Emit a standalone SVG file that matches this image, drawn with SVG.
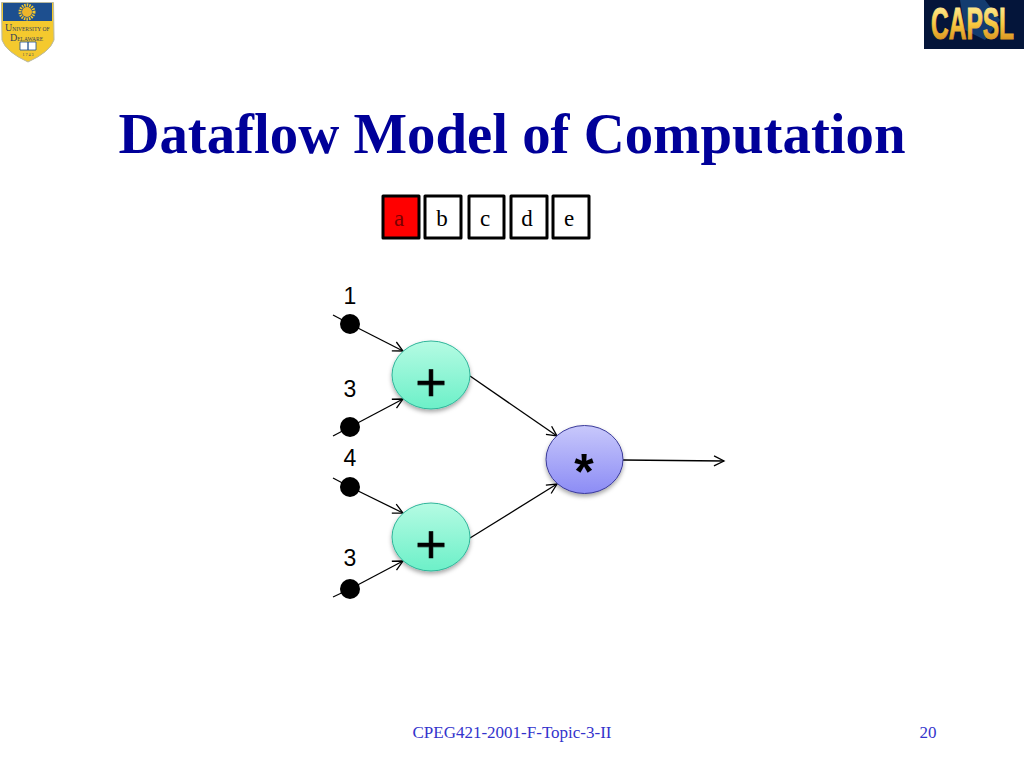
<svg xmlns="http://www.w3.org/2000/svg" width="1024" height="768" viewBox="0 0 1024 768">
<style>
.serif{font-family:"Liberation Serif","Times New Roman",serif}
.sans{font-family:"Liberation Sans",Arial,sans-serif}
.box{stroke:#000;stroke-width:3;stroke-linejoin:round;fill:#fff}
.boxt{font-size:23px;text-anchor:middle;fill:#000}
.num{font-size:23px;text-anchor:middle;fill:#000}
.op{font-size:50px;font-weight:700;text-anchor:middle;fill:#000}
.plus{font-size:54px;text-anchor:middle;fill:#000;stroke:#000;stroke-width:0.6}
.dot{fill:#000}
.edge{stroke:#000;stroke-width:1.3;fill:none;marker-end:url(#arr)}
.tail{stroke:#000;stroke-width:1.3;fill:none}
.foot{font-size:17px;fill:#3333cc}
.crest{font-size:10px;fill:#33405a}
.crest tspan{font-size:5.5px}
</style>
<defs>
<marker id="arr" markerUnits="userSpaceOnUse" markerWidth="14" markerHeight="14" refX="11" refY="7" orient="auto">
<path d="M1 2 L11 7 L1 12" fill="none" stroke="#000" stroke-width="1.3"/>
</marker>
<linearGradient id="green" x1="0" y1="0" x2="0" y2="1"><stop offset="0" stop-color="#b5fbe3"/><stop offset="1" stop-color="#6cf0c8"/></linearGradient>
<linearGradient id="blue" x1="0" y1="0" x2="0" y2="1"><stop offset="0" stop-color="#c8c8fb"/><stop offset="1" stop-color="#8c8cf5"/></linearGradient>
<linearGradient id="gold" x1="0" y1="0" x2="0" y2="1"><stop offset="0" stop-color="#fff6b0"/><stop offset="0.5" stop-color="#f8c840"/><stop offset="1" stop-color="#c87810"/></linearGradient>
<filter id="sh" x="-20%" y="-20%" width="140%" height="150%"><feDropShadow dx="0" dy="2.5" stdDeviation="2" flood-color="#000" flood-opacity="0.35"/></filter>
</defs>

<g id="logo-ud">
<path d="M1.500 2.500 L53.500 2.500 L54 40 Q50 52 28 62 Q6 52 2 40 Z" fill="#f4c92e" stroke="#b9b9a0" stroke-width="1"/>
<path d="M3 3 L52 3 L52 21 L3 21 Z" fill="#1d4f8f"/>
<circle cx="27" cy="12" r="7" fill="none" stroke="#f4c92e" stroke-width="3" stroke-dasharray="1.500 1"/>
<circle cx="27" cy="12" r="5" fill="#edb52a"/>
<text x="5" y="31" class="serif crest">U<tspan>NIVERSITY OF</tspan></text>
<text x="10" y="41" class="serif crest">D<tspan>ELAWARE</tspan></text>
<path d="M20 42 h8 v8 h-8 Z M28 42 h8 v8 h-8 Z" fill="#fff" stroke="#1d4f8f" stroke-width="0.8"/>
<text x="28" y="56" class="serif" font-size="4" text-anchor="middle" fill="#33405a">1 7 4 3</text>
</g>

<g id="logo-capsl">
<rect x="924" y="0" width="100" height="49" fill="#04153a"/>
<path d="M960 0 L985 0 L1000 20 L985 40 L965 30 Z" fill="#143c70"/>
<text transform="translate(931 39) scale(0.557 1)" class="sans" font-size="44" font-weight="700" fill="url(#gold)" stroke="url(#gold)" stroke-width="1">CAPSL</text>
</g>

<text id="title" x="512" y="153" class="serif" font-size="56.800" font-weight="700" text-anchor="middle" fill="#000099">Dataflow Model of Computation</text>

<g id="tape">
<g id="cell-a"><rect class="box" x="383" y="196" width="36" height="42" style="fill:#ff0000"/><text class="serif boxt" x="399" y="226" style="fill:#7a0000">a</text></g>
<g id="cell-b"><rect class="box" x="425" y="196" width="36" height="42"/><text class="serif boxt" x="442" y="226">b</text></g>
<g id="cell-c"><rect class="box" x="469" y="196" width="35" height="42"/><text class="serif boxt" x="485" y="226">c</text></g>
<g id="cell-d"><rect class="box" x="511" y="196" width="36" height="42"/><text class="serif boxt" x="527" y="226">d</text></g>
<g id="cell-e"><rect class="box" x="553" y="196" width="36" height="42"/><text class="serif boxt" x="569" y="226">e</text></g>
</g>

<g id="connectors">
<path class="tail" d="M333 315 L350 324"/>
<path class="edge" d="M350 324 L403 351"/>
<path class="tail" d="M333 436 L350 427"/>
<path class="edge" d="M350 427 L403 399"/>
<path class="tail" d="M333 478 L350 487"/>
<path class="edge" d="M350 487 L403 513"/>
<path class="tail" d="M333 597 L350 589"/>
<path class="edge" d="M350 589 L403 561"/>
<path class="edge" d="M470 376 L557 436"/>
<path class="edge" d="M470 538 L557 484"/>
<path class="edge" d="M623 460 L724 461"/>
</g>

<g id="token-1"><circle class="dot" cx="350" cy="324" r="10"/><text class="sans num" x="350" y="304">1</text></g>
<g id="token-3a"><circle class="dot" cx="350" cy="427" r="10"/><text class="sans num" x="350" y="397">3</text></g>
<g id="token-4"><circle class="dot" cx="350" cy="487" r="10"/><text class="sans num" x="350" y="466">4</text></g>
<g id="token-3b"><circle class="dot" cx="350" cy="589" r="10"/><text class="sans num" x="350" y="566">3</text></g>

<g id="add-1"><ellipse cx="431" cy="375" rx="39" ry="34" fill="url(#green)" stroke="#2fb59a" stroke-width="1" filter="url(#sh)"/><text class="sans plus" x="431" y="401">+</text></g>
<g id="add-2"><ellipse cx="431" cy="537" rx="39" ry="34" fill="url(#green)" stroke="#2fb59a" stroke-width="1" filter="url(#sh)"/><text class="sans plus" x="431" y="563">+</text></g>
<g id="mul"><ellipse cx="584.500" cy="459.500" rx="38.500" ry="34" fill="url(#blue)" stroke="#3a3a9a" stroke-width="1" filter="url(#sh)"/><text class="sans op" x="584" y="489">*</text></g>

<text id="footer" x="512" y="738" class="serif foot" text-anchor="middle">CPEG421-2001-F-Topic-3-II</text>
<text id="page" x="928" y="738" class="serif foot" text-anchor="middle">20</text>
</svg>
